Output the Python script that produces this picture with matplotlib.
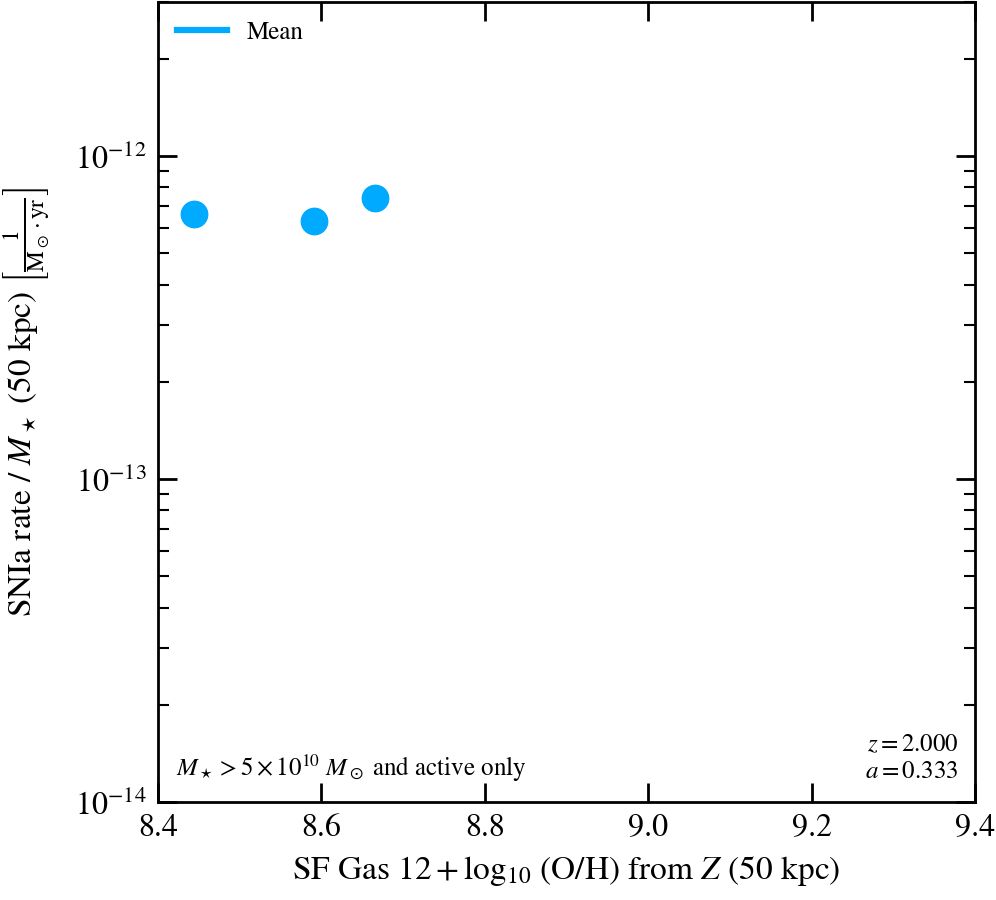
import numpy as np
import matplotlib
matplotlib.use("Agg")
import matplotlib.pyplot as plt
from matplotlib.ticker import LogLocator, NullFormatter, FixedLocator, NullLocator

plt.rcParams["font.family"] = "STIXGeneral"
plt.rcParams["mathtext.fontset"] = "stix"

# binned mean values
metallicity = [8.444, 8.591, 8.666]
snia_rate = [6.6e-13, 6.3e-13, 7.4e-13]

xticks = [8.4, 8.6, 8.8, 9.0, 9.2, 9.4]
yticks = [1e-14, 1e-13, 1e-12]
xlim = (8.4, 9.4)
ylim = (1e-14, 3e-12)

fig = plt.figure(figsize=(9.96, 9.0), dpi=100)
ax = fig.add_axes([0.1586, 0.1089, 0.8204, 0.8889])

ax.plot(metallicity, snia_rate, "o", color="#00aaff", markersize=19,
        linestyle="none")
ax.plot([], [], "-", color="#00aaff", lw=4.5, label="Mean")

ax.set_yscale("log")
ax.set_xlim(*xlim)
ax.set_ylim(*ylim)
ax.xaxis.set_major_locator(FixedLocator(xticks))
ax.set_xticklabels([f"{t:.1f}" for t in xticks])
ax.xaxis.set_minor_locator(NullLocator())
ax.yaxis.set_major_locator(FixedLocator(yticks))
ax.yaxis.set_minor_locator(LogLocator(base=10, subs=np.arange(2, 10), numticks=20))
ax.yaxis.set_minor_formatter(NullFormatter())

ax.tick_params(which="both", direction="in", top=True, right=True, labelsize=23)
ax.tick_params(which="major", length=14, width=2, pad=8)
ax.tick_params(which="minor", length=8, width=1.5)
for s in ax.spines.values():
    s.set_linewidth(2)

ax.set_xlabel(r"SF Gas $12 + \log_{10}\,$(O/H) from $Z$ (50 kpc)", fontsize=24,
              labelpad=8)
ax.set_ylabel(r"SNIa rate / $M_\star$ (50 kpc) $\left[\frac{1}{\mathrm{M}_\odot \cdot \mathrm{yr}}\right]$",
              fontsize=24, labelpad=16)

ax.legend(loc="upper left", frameon=False, fontsize=18, handlelength=2.0,
          borderaxespad=0.35)
ax.text(0.022, 0.022, r"$M_\star > 5 \times 10^{10}\ M_\odot$ and active only",
        transform=ax.transAxes, fontsize=18, ha="left", va="bottom")
ax.text(0.98, 0.022, "$z = 2.000$\n$a = 0.333$", transform=ax.transAxes,
        fontsize=18, ha="right", va="bottom", multialignment="right")

fig.savefig("out.png", dpi=100)
